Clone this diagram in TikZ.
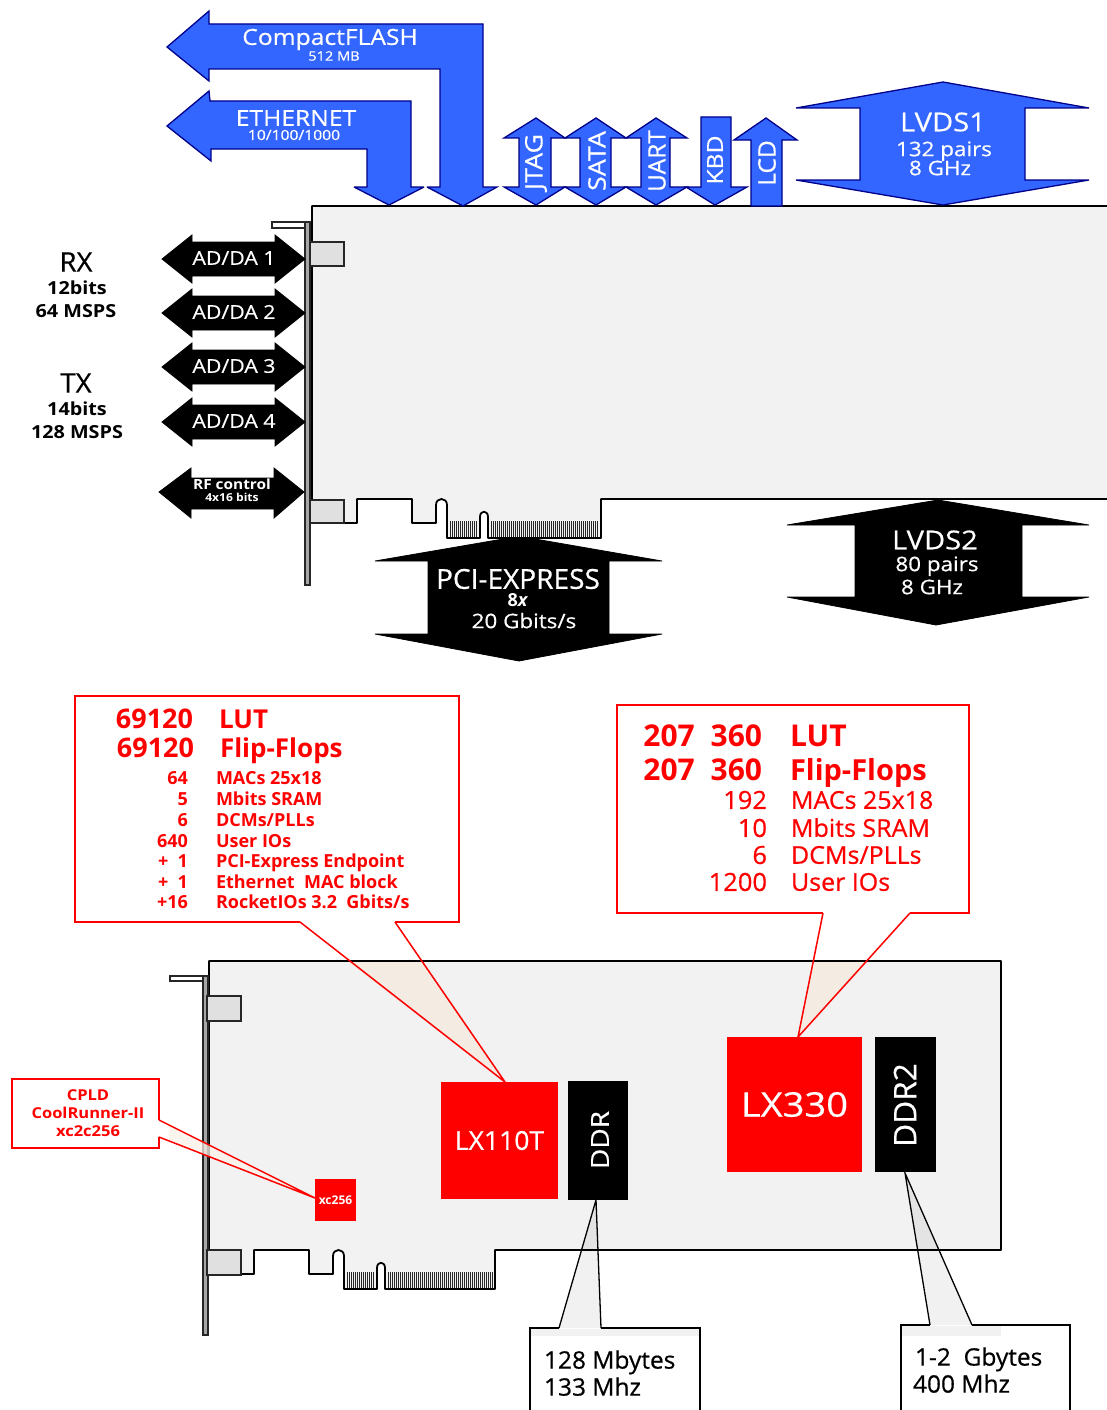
\documentclass[tikz,border=0pt]{standalone}
\usepackage{fontspec}
\setmainfont{Open Sans}
\newfontfamily\widef[FakeStretch=1.12,FakeBold=0.5]{Open Sans}
\newfontfamily\wideb[FakeStretch=1.1]{Open Sans}
\newfontfamily\semif[FakeStretch=1.02,FakeBold=0.6]{Open Sans}
\usetikzlibrary{calc}
\definecolor{bluefill}{HTML}{3366FF}
\definecolor{blueedge}{HTML}{00008B}
\definecolor{boardgray}{HTML}{F2F2F2}
\definecolor{blockgray}{HTML}{E0E0E0}
\definecolor{redcol}{HTML}{FF0000}
\definecolor{wedgetan}{HTML}{F4EBE2}
\definecolor{wedgecream}{HTML}{FBF2E8}
\newcommand\fsz[1]{\fontsize{#1}{#1}\selectfont}
\newcommand\capstrut{\rule[-.4em]{0pt}{1.514em}}
\tikzset{
  bluearrow/.style={fill=bluefill,draw=blueedge,line width=1.3pt,line join=miter,miter limit=4},
  blackarrow/.style={fill=black,draw=black,line width=.8pt},
  boardline/.style={fill=boardgray,draw=black,line width=1.8pt,line join=round},
  bracketline/.style={draw=black!85,line width=1.3pt},
  gblock/.style={fill=blockgray,draw=black!85,line width=1.4pt},
  lab/.style={inner sep=0pt,outer sep=0pt,anchor=center,execute at begin node=\capstrut},
  wlab/.style={lab,text=white},
  wrot/.style={inner sep=0pt,outer sep=0pt,anchor=center,text=white,rotate=90},
  blab/.style={lab,text=black},
  rlab/.style={lab,text=redcol},
  numl/.style={lab,anchor=east,text=redcol},
  txtl/.style={lab,anchor=west,text=redcol},
  redbox/.style={draw=redcol,line width=2.2pt,line join=miter},
  redcall/.style={draw=redcol,line width=1.5pt},
  blackbox/.style={draw=black,line width=2.2pt,line join=miter},
  blackcall/.style={draw=black,line width=1.3pt},
  chip/.style={inner sep=0pt,outer sep=0pt,draw=none,text=white,anchor=north west},
}
% left, top, right, bottom, end of the edge connector
\newcommand\pcbshape[5]{%
  \path[boardline] (#1,#2) -- (#3,#2) -- (#3,#4) -- (#5,#4)
    -- (#5,{#4+39}) -- ({#1+176},{#4+39}) -- ({#1+176},{#4+18})
    .. controls ({#1+176},{#4+11}) and ({#1+168},{#4+11}) .. ({#1+168},{#4+18})
    -- ({#1+168},{#4+39}) -- ({#1+135},{#4+39}) -- ({#1+135},{#4+6})
    .. controls ({#1+135},{#4-2}) and ({#1+124},{#4-2}) .. ({#1+124},{#4+6})
    -- ({#1+124},{#4+24}) -- ({#1+100},{#4+24}) -- ({#1+100},#4)
    -- ({#1+45},#4) -- ({#1+45},{#4+24}) -- (#1,{#4+24}) -- cycle;
  \foreach \hx in {138,140,...,164}
    \draw[black!85,line width=.9pt] ({#1+\hx},{#4+22}) -- ({#1+\hx},{#4+38});
  \pgfmathsetmacro\hxa{#5-#1-3}
  \foreach \hx in {179,181,...,\hxa}
    \draw[black!85,line width=.9pt] ({#1+\hx},{#4+22}) -- ({#1+\hx},{#4+38});
}
\begin{document}
\begin{tikzpicture}[x=1pt,y=-1pt]
\useasboundingbox (0,0) rectangle (1106,1410);
\fill[white] (0,0) rectangle (1106,1410);

% ---------- upper board ----------
\pcbshape{312}{206}{1109}{499}{601}
\path[fill=white,bracketline] (272,222) -- (310,222) -- (310,228) -- (272,228) -- cycle;
\path[fill=black!35,bracketline] (305,222) -- (310,222) -- (310,585) -- (305,585) -- cycle;
\path[gblock] (310,242) rectangle (344,266);
\path[gblock] (310,500) rectangle (344,523);

% ---------- blue arrows ----------
\path[bluearrow] (167,47) -- (209,11) -- (209,24) -- (483,24) -- (483,187) -- (497,187) -- (463,206)
  -- (427,187) -- (440,187) -- (440,69) -- (209,69) -- (209,81) -- cycle;
\path[bluearrow] (167,126) -- (209,91) -- (210,101) -- (411,101) -- (411,187) -- (424,187) -- (389,205)
  -- (354,187) -- (367,187) -- (367,149) -- (211,149) -- (211,161) -- cycle;
\path[bluearrow] (536,118) -- (565,138) -- (551,138) -- (551,187) -- (565,187) -- (536,205)
  -- (504,187) -- (519,187) -- (519,138) -- (504,138) -- cycle;
\path[bluearrow] (596,118) -- (626,138) -- (611,138) -- (611,187) -- (626,187) -- (596,205)
  -- (565,187) -- (580,187) -- (580,138) -- (565,138) -- cycle;
\path[bluearrow] (656,118) -- (687,138) -- (670,138) -- (670,187) -- (687,187) -- (656,205)
  -- (626,187) -- (641,187) -- (641,138) -- (626,138) -- cycle;
\path[bluearrow] (701,117) -- (731,117) -- (731,187) -- (747,187) -- (715,205) -- (686,187) -- (701,187) -- cycle;
\path[bluearrow] (766,118) -- (797,140) -- (782,140) -- (782,206) -- (751,206) -- (751,140) -- (734,140) -- cycle;
\path[bluearrow] (943,82) -- (1089,108) -- (1025,108) -- (1025,180) -- (1089,180) -- (943,205)
  -- (796,180) -- (860,180) -- (860,108) -- (796,108) -- cycle;

\node[wlab,font=\widef\fsz{22}] (cf) at (330,37) {CompactFLASH};
\node[wlab,font=\widef\fsz{13}] (cfsub) at (334,56) {512 MB};
\node[wlab,font=\widef\fsz{22}] (eth) at (296,118) {ETHERNET};
\node[wlab,font=\widef\fsz{14}] (ethsub) at (294,135) {10/100/1000};
\node[wrot,font=\widef\fsz{24}] (jtag) at (536,162) {JTAG};
\node[wrot,font=\widef\fsz{24}] (sata) at (597,161) {SATA};
\node[wrot,font=\semif\fsz{24}] (uart) at (657,161) {UART};
\node[wrot,font=\widef\fsz{22}] (kbd) at (715,160) {KBD};
\node[wrot,font=\semif\fsz{24}] (lcd) at (767,163) {LCD};
\node[wlab,font=\widef\fsz{26}] (lvdsa) at (943,122) {LVDS1};
\node[wlab,font=\widef\fsz{20}] (lvdsab) at (944,149) {132 pairs};
\node[wlab,font=\widef\fsz{20}] (lvdsac) at (940,168) {8 GHz};

% ---------- black arrows, left ----------
\foreach \yy/\nm in {259/1,313/2,367/3,422/4}{
  \path[blackarrow] (162,\yy) -- (192,{\yy-24}) -- (192,{\yy-17}) -- (275,{\yy-17}) -- (275,{\yy-24}) -- (305,\yy)
    -- (275,{\yy+24}) -- (275,{\yy+17}) -- (192,{\yy+17}) -- (192,{\yy+24}) -- cycle;
  \node[wlab,font=\widef\fsz{19}] (ad\nm) at (234,{\yy-1}) {AD/DA \nm};
}
\path[blackarrow] (159,492) -- (191,468) -- (191,478) -- (274,478) -- (274,468) -- (304,492)
  -- (274,518) -- (274,509) -- (191,509) -- (191,518) -- cycle;
\node[wlab,font=\wideb\bfseries\fsz{14}] (rf) at (232,484) {RF control};
\node[wlab,font=\wideb\bfseries\fsz{11}] (rfsub) at (232,498) {4x16 bits};

\node[blab,font=\semif\fsz{27}] (rx) at (76,262) {RX};
\node[blab,font=\wideb\bfseries\fsz{18}] (rxa) at (77,288) {12bits};
\node[blab,font=\wideb\bfseries\fsz{18}] (rxb) at (76,311) {64 MSPS};
\node[blab,font=\semif\fsz{27}] (tx) at (76,383) {TX};
\node[blab,font=\wideb\bfseries\fsz{18}] (txa) at (77,409) {14bits};
\node[blab,font=\wideb\bfseries\fsz{18}] (txb) at (77,432) {128 MSPS};

% ---------- black arrows, bottom ----------
\path[blackarrow] (503,539) -- (535,539) -- (662,561) -- (609,561) -- (609,634) -- (662,634) -- (519,661)
  -- (375,634) -- (428,634) -- (428,561) -- (375,561) -- cycle;
\path[blackarrow] (938,500) -- (1089,525) -- (1022,525) -- (1022,597) -- (1089,597) -- (936,625)
  -- (787,597) -- (855,597) -- (855,525) -- (787,525) -- cycle;
\node[wlab,font=\semif\fsz{27.5}] (pcie) at (518,579) {PCI-EXPRESS};
\node[wlab,font=\bfseries\fsz{18}] (pcieb) at (518,600) {8\textit{x}};
\node[wlab,font=\widef\fsz{20}] (piec) at (524,621) {20 Gbits/s};
\node[wlab,font=\widef\fsz{26}] (lvdsb) at (935,540) {LVDS2};
\node[wlab,font=\widef\fsz{20}] (lvdsbb) at (937,564) {80 pairs};
\node[wlab,font=\widef\fsz{20}] (lvdsbc) at (932,587) {8 GHz};

% ---------- lower board ----------
\pcbshape{209}{961}{1001}{1250}{495}
\path[fill=white,bracketline] (170,976) -- (208,976) -- (208,981) -- (170,981) -- cycle;
\path[fill=black!35,bracketline] (203,976) -- (208,976) -- (208,1335) -- (203,1335) -- cycle;
\path[gblock] (207,996) rectangle (241,1021);
\path[gblock] (207,1250) rectangle (241,1275);

% ---------- chips ----------
\node[chip,fill=redcol,minimum width=117pt,minimum height=117pt,font=\semif\fsz{26}] (lxa) at (441,1082) {LX110T};
\node[chip,fill=black,minimum width=60pt,minimum height=119pt] (ddr) at (568,1081) {};
\node[wrot,font=\widef\fsz{25}] (ddrl) at (600,1140) {DDR};
\node[chip,fill=redcol,minimum width=135pt,minimum height=135pt,font=\widef\fsz{34}] (lxb) at (727,1037) {LX330};
\node[chip,fill=black,minimum width=61pt,minimum height=135pt] (ddrb) at (875,1037) {};
\node[wrot,font=\semif\fsz{31}] (ddrbl) at (905,1105) {DDR2};
\node[chip,fill=redcol,minimum width=41pt,minimum height=42pt,font=\bfseries\fsz{12}] (xc) at (315,1179) {xc256};

% ---------- red callouts ----------
\coordinate (tipa) at (505,1082);
\coordinate (tipb) at (798,1037);
\coordinate (tipc) at (315,1198);
\fill[wedgetan] (348,962) -- (423,962) -- (tipa) -- cycle;
\fill[wedgetan] (813,962) -- (867,962) -- (tipb) -- cycle;
\fill[wedgecream,opacity=.75] (169,1125) -- (tipc) -- (169,1141) -- cycle;

\path[redbox] (300,922) -- (75,922) -- (75,696) -- (459,696) -- (459,922) -- (395,922);
\path[redcall] (300,922) -- (tipa) -- (395,922);
\path[redbox] (823,913) -- (617,913) -- (617,705) -- (969,705) -- (969,913) -- (910,913);
\path[redcall] (823,913) -- (tipb) -- (910,913);
\path[redbox] (159,1120) -- (159,1079) -- (12,1079) -- (12,1148) -- (159,1148) -- (159,1137);
\path[redcall] (159,1120) -- (tipc) -- (159,1137);

% box 1 text
\node[numl,font=\bfseries\fsz{27}] (aa) at (193,719) {69120};
\node[txtl,font=\bfseries\fsz{26}] (ab) at (219,719) {LUT};
\node[numl,font=\bfseries\fsz{27}] (ac) at (194,748) {69120};
\node[txtl,font=\bfseries\fsz{26}] (ad) at (220,748) {Flip-Flops};
\foreach \yy/\nn/\tt [count=\ci] in {778/64/{MACs 25x18},799/5/{Mbits SRAM},820/6/{DCMs/PLLs},841/640/{User IOs},861/+ \ 1/{PCI-Express Endpoint},882/+ \ 1/{Ethernet \ MAC block},902/+16/{RocketIOs 3.2 \ Gbits/s}}{
  \node[numl,font=\bfseries\fsz{18}] (na\ci) at (188,\yy) {\nn};
  \node[txtl,font=\bfseries\fsz{18}] (ta\ci) at (216,\yy) {\tt};
}
% box 2 text
\node[numl,font=\bfseries\fsz{30}] (ba) at (762,736) {207\hspace{8pt} 360};
\node[txtl,font=\bfseries\fsz{30}] (bb) at (790,736) {LUT};
\node[numl,font=\bfseries\fsz{30}] (bc) at (762,770) {207\hspace{8pt} 360};
\node[txtl,font=\bfseries\fsz{29}] (bd) at (790,770) {Flip-Flops};
\foreach \yy/\nn/\tt [count=\ci] in {800/192/{MACs 25x18},828/10/{Mbits SRAM},855/6/{DCMs/PLLs},882/1200/{User IOs}}{
  \node[numl,font=\semif\fsz{25}] (nb\ci) at (767,\yy) {\nn};
  \node[txtl,font=\semif\fsz{24.5}] (tb\ci) at (791,\yy) {\tt};
}
% cpld text
\node[rlab,font=\wideb\bfseries\fsz{15}] (ca) at (88,1095) {CPLD};
\node[rlab,font=\wideb\bfseries\fsz{15}] (cb) at (88,1113) {CoolRunner-II};
\node[rlab,font=\wideb\bfseries\fsz{15}] (cc) at (88,1131) {xc2c256};

% ---------- black callouts ----------
\coordinate (tipd) at (596,1200);
\coordinate (tipe) at (905,1173);
\fill[black,opacity=.055] (559,1328) -- (tipd) -- (601,1328) -- cycle;
\fill[black,opacity=.055] (930,1325) -- (tipe) -- (972,1325) -- cycle;
\fill[black,opacity=.055] (531,1329) rectangle (700,1336);
\fill[black,opacity=.055] (902,1326) rectangle (1001,1336);
\path[blackbox] (559,1328) -- (530,1328) -- (530,1412);
\path[blackbox] (601,1328) -- (700,1328) -- (700,1412);
\path[blackbox] (930,1325) -- (901,1325) -- (901,1412);
\path[blackbox] (972,1325) -- (1070,1325) -- (1070,1412);
\path[blackcall] (559,1328) -- (tipd) -- (601,1328);
\path[blackcall] (930,1325) -- (tipe) -- (972,1325);
\node[txtl,text=black,font=\semif\fsz{24}] (da) at (544,1360) {128 Mbytes};
\node[txtl,text=black,font=\semif\fsz{24}] (db) at (544,1387) {133 Mhz};
\node[txtl,text=black,font=\semif\fsz{24}] (dc) at (915,1357) {1-2 \ Gbytes};
\node[txtl,text=black,font=\semif\fsz{24}] (dd) at (913,1384) {400 Mhz};
\end{tikzpicture}
\end{document}
